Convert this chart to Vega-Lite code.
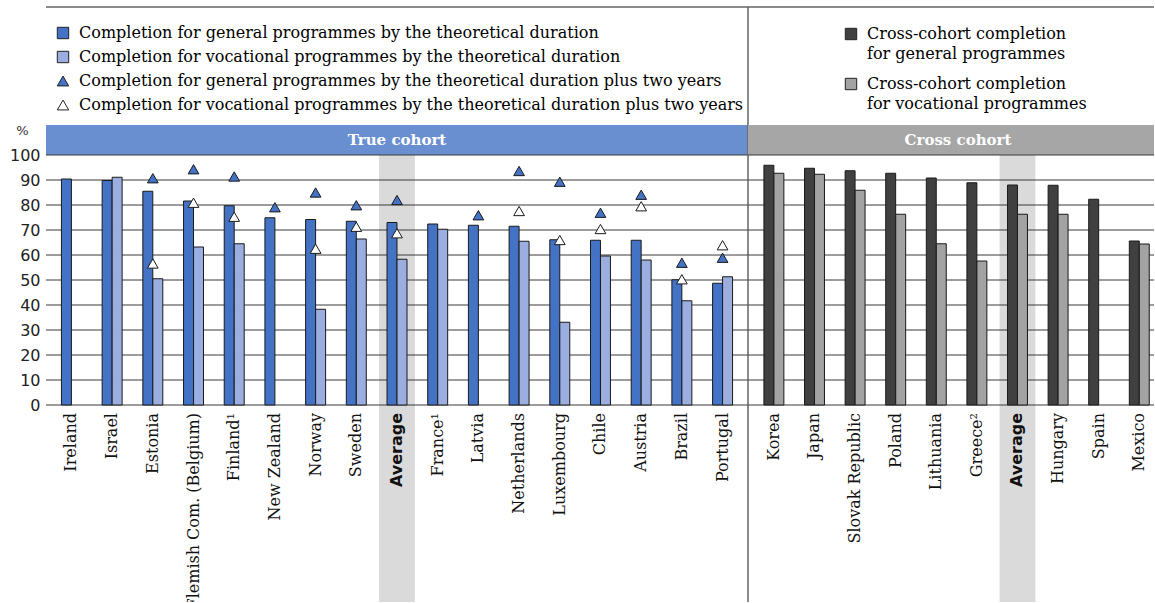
{
  "$schema": "https://vega.github.io/schema/vega-lite/v6.json",
  "padding": {"left": 9, "top": 6, "right": 0, "bottom": 0},
  "autosize": {"type": "pad"},
  "background": "white",
  "config": {
    "view": {"stroke": null},
    "axis": {"grid": false, "domain": false, "ticks": false},
    "style": {"guide-label": {"lineHeight": 20}}
  },
  "spacing": 0,
  "bounds": "flush",
  "resolve": {
    "scale": {"x": "independent", "y": "independent", "color": "independent", "shape": "independent"},
    "legend": {"color": "independent", "shape": "independent"}
  },
  "hconcat": [
    {
      "width": 702,
      "height": 595,
      "data": {"values": [
        {"c": "Ireland", "s": "gen", "v": 90.4},
        {"c": "Israel", "s": "gen", "v": 89.8}, {"c": "Israel", "s": "voc", "v": 91.1},
        {"c": "Estonia", "s": "gen", "v": 85.5}, {"c": "Estonia", "s": "voc", "v": 50.5}, {"c": "Estonia", "s": "gen2", "v": 90.7}, {"c": "Estonia", "s": "voc2", "v": 56.6},
        {"c": "Flemish Com. (Belgium)", "s": "gen", "v": 81.6}, {"c": "Flemish Com. (Belgium)", "s": "voc", "v": 63.2}, {"c": "Flemish Com. (Belgium)", "s": "gen2", "v": 94.3}, {"c": "Flemish Com. (Belgium)", "s": "voc2", "v": 80.9},
        {"c": "Finland¹", "s": "gen", "v": 79.7}, {"c": "Finland¹", "s": "voc", "v": 64.5}, {"c": "Finland¹", "s": "gen2", "v": 91.4}, {"c": "Finland¹", "s": "voc2", "v": 75.3},
        {"c": "New Zealand", "s": "gen", "v": 74.9}, {"c": "New Zealand", "s": "gen2", "v": 79.1},
        {"c": "Norway", "s": "gen", "v": 74.2}, {"c": "Norway", "s": "voc", "v": 38.3}, {"c": "Norway", "s": "gen2", "v": 85.0}, {"c": "Norway", "s": "voc2", "v": 62.5},
        {"c": "Sweden", "s": "gen", "v": 73.5}, {"c": "Sweden", "s": "voc", "v": 66.4}, {"c": "Sweden", "s": "gen2", "v": 79.9}, {"c": "Sweden", "s": "voc2", "v": 71.3},
        {"c": "Average", "s": "gen", "v": 73.0}, {"c": "Average", "s": "voc", "v": 58.3}, {"c": "Average", "s": "gen2", "v": 82.0}, {"c": "Average", "s": "voc2", "v": 68.7},
        {"c": "France¹", "s": "gen", "v": 72.4}, {"c": "France¹", "s": "voc", "v": 70.3},
        {"c": "Latvia", "s": "gen", "v": 71.9}, {"c": "Latvia", "s": "gen2", "v": 75.9},
        {"c": "Netherlands", "s": "gen", "v": 71.5}, {"c": "Netherlands", "s": "voc", "v": 65.5}, {"c": "Netherlands", "s": "gen2", "v": 93.6}, {"c": "Netherlands", "s": "voc2", "v": 77.6},
        {"c": "Luxembourg", "s": "gen", "v": 66.1}, {"c": "Luxembourg", "s": "voc", "v": 33.1}, {"c": "Luxembourg", "s": "gen2", "v": 89.3}, {"c": "Luxembourg", "s": "voc2", "v": 66.0},
        {"c": "Chile", "s": "gen", "v": 65.9}, {"c": "Chile", "s": "voc", "v": 59.6}, {"c": "Chile", "s": "gen2", "v": 76.9}, {"c": "Chile", "s": "voc2", "v": 70.4},
        {"c": "Austria", "s": "gen", "v": 65.9}, {"c": "Austria", "s": "voc", "v": 58.0}, {"c": "Austria", "s": "gen2", "v": 84.1}, {"c": "Austria", "s": "voc2", "v": 79.5},
        {"c": "Brazil", "s": "gen", "v": 50.1}, {"c": "Brazil", "s": "voc", "v": 41.7}, {"c": "Brazil", "s": "gen2", "v": 56.9}, {"c": "Brazil", "s": "voc2", "v": 50.3},
        {"c": "Portugal", "s": "gen", "v": 48.7}, {"c": "Portugal", "s": "voc", "v": 51.3}, {"c": "Portugal", "s": "gen2", "v": 58.9}, {"c": "Portugal", "s": "voc2", "v": 63.9}
      ]},
      "layer": [
        {
          "transform": [{"filter": "datum.c == 'Average' && datum.s == 'gen'"}],
          "mark": {"type": "bar", "color": "#DADADA", "width": {"band": 1.8}},
          "encoding": {
            "x": {"field": "c", "type": "nominal", "axis": null, "scale": {"domain": ["Ireland", "Israel", "Estonia", "Flemish Com. (Belgium)", "Finland¹", "New Zealand", "Norway", "Sweden", "Average", "France¹", "Latvia", "Netherlands", "Luxembourg", "Chile", "Austria", "Brazil", "Portugal"], "paddingInner": 0.51, "paddingOuter": 0.38}},
            "y": {"datum": 100, "type": "quantitative", "scale": {"domain": [-78.8, 159.2], "nice": false, "zero": false},
              "axis": {"values": [0, 10, 20, 30, 40, 50, 60, 70, 80, 90, 100], "grid": false, "domain": false, "ticks": false, "tickSize": 0, "labelPadding": 6, "labelFont": "DejaVu Sans", "labelFontSize": 16, "labelColor": "#222", "title": "%", "titleAngle": 0, "titleX": -24, "titleY": 123, "titleAlign": "center", "titleBaseline": "middle", "titleFont": "DejaVu Sans", "titleFontSize": 13, "titleFontWeight": "normal", "titleColor": "#333"}},
            "y2": {"datum": -78.8}
          }
        },
        {
          "data": {"values": [{"h": "True cohort"}]},
          "mark": {"type": "rect", "color": "#6A8FD0"},
          "encoding": {"y": {"datum": 100, "type": "quantitative"}, "y2": {"datum": 112}}
        },
        {
          "data": {"values": [{"h": "True cohort"}]},
          "mark": {"type": "text", "color": "white", "font": "DejaVu Serif", "fontWeight": "bold", "fontSize": 15, "baseline": "middle", "align": "center"},
          "encoding": {"y": {"datum": 106, "type": "quantitative"}, "text": {"field": "h"}}
        },
        {
          "data": {"values": [{"t": 0}, {"t": 10}, {"t": 20}, {"t": 30}, {"t": 40}, {"t": 50}, {"t": 60}, {"t": 70}, {"t": 80}, {"t": 90}, {"t": 100}]},
          "mark": {"type": "rule", "color": "#3a3a3a", "strokeWidth": 1},
          "encoding": {"y": {"field": "t", "type": "quantitative"}}
        },
        {
          "data": {"values": [{"b": 159.2}]},
          "mark": {"type": "rule", "color": "#666666", "strokeWidth": 1.5},
          "encoding": {"y": {"field": "b", "type": "quantitative"}}
        },
        {
          "transform": [{"filter": "datum.s == 'gen'"}],
          "mark": {"type": "bar", "stroke": "#1a1a1a", "strokeWidth": 1, "width": {"band": 0.5}, "xOffset": -5},
          "encoding": {
            "x": {"field": "c", "type": "nominal", "axis": null},
            "y": {"field": "v", "type": "quantitative"},
            "color": {"field": "s", "type": "nominal",
              "scale": {"domain": ["gen", "voc", "gen2", "voc2"], "range": ["#4472C4", "#9BAEDF", "#4472C4", "#FFFFFF"]},
              "legend": {"orient": "none", "legendX": 9, "legendY": 18, "title": null, "padding": 0, "labelFont": "DejaVu Serif", "labelFontSize": 16, "labelColor": "#000", "labelLimit": 1000, "labelOffset": 8, "rowPadding": 8, "symbolSize": 130, "symbolStrokeColor": "#222", "symbolStrokeWidth": 1, "labelExpr": "datum.label == 'gen' ? 'Completion for general programmes by the theoretical duration' : datum.label == 'voc' ? 'Completion for vocational programmes by the theoretical duration' : datum.label == 'gen2' ? 'Completion for general programmes by the theoretical duration plus two years' : 'Completion for vocational programmes by the theoretical duration plus two years'"}}
          }
        },
        {
          "transform": [{"filter": "datum.s == 'voc'"}],
          "mark": {"type": "bar", "stroke": "#1a1a1a", "strokeWidth": 1, "width": {"band": 0.5}, "xOffset": 5},
          "encoding": {
            "x": {"field": "c", "type": "nominal", "axis": null},
            "y": {"field": "v", "type": "quantitative"},
            "color": {"field": "s", "type": "nominal",
              "legend": {"orient": "none", "legendX": 9, "legendY": 18, "title": null, "padding": 0, "labelFont": "DejaVu Serif", "labelFontSize": 16, "labelColor": "#000", "labelLimit": 1000, "labelOffset": 8, "rowPadding": 8, "symbolSize": 130, "symbolStrokeColor": "#222", "symbolStrokeWidth": 1, "labelExpr": "datum.label == 'gen' ? 'Completion for general programmes by the theoretical duration' : datum.label == 'voc' ? 'Completion for vocational programmes by the theoretical duration' : datum.label == 'gen2' ? 'Completion for general programmes by the theoretical duration plus two years' : 'Completion for vocational programmes by the theoretical duration plus two years'"}}
          }
        },
        {
          "transform": [{"filter": {"field": "s", "oneOf": ["gen2", "voc2"]}}],
          "mark": {"type": "point", "filled": true, "stroke": "#1a1a1a", "strokeWidth": 1, "size": 115, "opacity": 1},
          "encoding": {
            "x": {"field": "c", "type": "nominal", "axis": null},
            "y": {"field": "v", "type": "quantitative"},
            "color": {"field": "s", "type": "nominal",
              "legend": {"orient": "none", "legendX": 9, "legendY": 18, "title": null, "padding": 0, "labelFont": "DejaVu Serif", "labelFontSize": 16, "labelColor": "#000", "labelLimit": 1000, "labelOffset": 8, "rowPadding": 8, "symbolSize": 130, "symbolStrokeColor": "#222", "symbolStrokeWidth": 1, "labelExpr": "datum.label == 'gen' ? 'Completion for general programmes by the theoretical duration' : datum.label == 'voc' ? 'Completion for vocational programmes by the theoretical duration' : datum.label == 'gen2' ? 'Completion for general programmes by the theoretical duration plus two years' : 'Completion for vocational programmes by the theoretical duration plus two years'"}},
            "shape": {"field": "s", "type": "nominal",
              "scale": {"domain": ["gen", "voc", "gen2", "voc2"], "range": ["square", "square", "triangle-up", "triangle-up"]},
              "legend": {"orient": "none", "legendX": 9, "legendY": 18, "title": null, "padding": 0, "labelFont": "DejaVu Serif", "labelFontSize": 16, "labelColor": "#000", "labelLimit": 1000, "labelOffset": 8, "rowPadding": 8, "symbolSize": 130, "symbolStrokeColor": "#222", "symbolStrokeWidth": 1, "labelExpr": "datum.label == 'gen' ? 'Completion for general programmes by the theoretical duration' : datum.label == 'voc' ? 'Completion for vocational programmes by the theoretical duration' : datum.label == 'gen2' ? 'Completion for general programmes by the theoretical duration plus two years' : 'Completion for vocational programmes by the theoretical duration plus two years'"}}
          }
        },
        {
          "transform": [{"filter": "datum.s == 'gen' && datum.c != 'Average'"}],
          "mark": {"type": "text", "angle": 270, "align": "right", "baseline": "middle", "font": "DejaVu Serif", "fontSize": 16, "color": "#111", "clip": true},
          "encoding": {
            "x": {"field": "c", "type": "nominal", "axis": null},
            "y": {"datum": -3.2, "type": "quantitative"},
            "text": {"field": "c"}
          }
        },
        {
          "transform": [{"filter": "datum.s == 'gen' && datum.c == 'Average'"}],
          "mark": {"type": "text", "angle": 270, "align": "right", "baseline": "middle", "font": "DejaVu Sans", "fontWeight": "bold", "fontSize": 16, "color": "#111", "clip": true},
          "encoding": {
            "x": {"field": "c", "type": "nominal", "axis": null},
            "y": {"datum": -3.2, "type": "quantitative"},
            "text": {"field": "c"}
          }
        }
      ]
    },
    {
      "width": 406,
      "height": 595,
      "view": {"stroke": "#666666", "strokeWidth": 1.5, "strokeDash": [406, 1001, 595, 0]},
      "data": {"values": [
        {"c": "Korea", "s": "cg", "v": 95.9}, {"c": "Korea", "s": "cv", "v": 92.7},
        {"c": "Japan", "s": "cg", "v": 94.7}, {"c": "Japan", "s": "cv", "v": 92.3},
        {"c": "Slovak Republic", "s": "cg", "v": 93.7}, {"c": "Slovak Republic", "s": "cv", "v": 85.9},
        {"c": "Poland", "s": "cg", "v": 92.7}, {"c": "Poland", "s": "cv", "v": 76.3},
        {"c": "Lithuania", "s": "cg", "v": 90.8}, {"c": "Lithuania", "s": "cv", "v": 64.5},
        {"c": "Greece²", "s": "cg", "v": 88.9}, {"c": "Greece²", "s": "cv", "v": 57.6},
        {"c": "Average", "s": "cg", "v": 88.0}, {"c": "Average", "s": "cv", "v": 76.3},
        {"c": "Hungary", "s": "cg", "v": 87.9}, {"c": "Hungary", "s": "cv", "v": 76.3},
        {"c": "Spain", "s": "cg", "v": 82.3},
        {"c": "Mexico", "s": "cg", "v": 65.6}, {"c": "Mexico", "s": "cv", "v": 64.4}
      ]},
      "layer": [
        {
          "transform": [{"filter": "datum.c == 'Average' && datum.s == 'cg'"}],
          "mark": {"type": "bar", "color": "#DADADA", "width": {"band": 1.8}},
          "encoding": {
            "x": {"field": "c", "type": "nominal", "axis": null, "scale": {"domain": ["Korea", "Japan", "Slovak Republic", "Poland", "Lithuania", "Greece²", "Average", "Hungary", "Spain", "Mexico"], "paddingInner": 0.51, "paddingOuter": 0.255, "align": 0.77}},
            "y": {"datum": 100, "type": "quantitative", "axis": null, "scale": {"domain": [-78.8, 159.2], "nice": false, "zero": false}},
            "y2": {"datum": -78.8}
          }
        },
        {
          "data": {"values": [{"h": "Cross cohort"}]},
          "mark": {"type": "rect", "color": "#A6A6A6"},
          "encoding": {"y": {"datum": 100, "type": "quantitative", "axis": null}, "y2": {"datum": 112}}
        },
        {
          "data": {"values": [{"h": "Cross cohort"}]},
          "mark": {"type": "text", "color": "white", "font": "DejaVu Serif", "fontWeight": "bold", "fontSize": 15, "baseline": "middle", "align": "center", "dx": 7},
          "encoding": {"y": {"datum": 106, "type": "quantitative", "axis": null}, "text": {"field": "h"}}
        },
        {
          "data": {"values": [{"t": 0}, {"t": 10}, {"t": 20}, {"t": 30}, {"t": 40}, {"t": 50}, {"t": 60}, {"t": 70}, {"t": 80}, {"t": 90}, {"t": 100}]},
          "mark": {"type": "rule", "color": "#3a3a3a", "strokeWidth": 1},
          "encoding": {"y": {"field": "t", "type": "quantitative", "axis": null}}
        },
        {
          "transform": [{"filter": "datum.s == 'cg'"}],
          "mark": {"type": "bar", "stroke": "#1a1a1a", "strokeWidth": 1, "width": {"band": 0.5}, "xOffset": -5},
          "encoding": {
            "x": {"field": "c", "type": "nominal", "axis": null},
            "y": {"field": "v", "type": "quantitative", "axis": null},
            "color": {"field": "s", "type": "nominal",
              "scale": {"domain": ["cg", "cv"], "range": ["#404040", "#A3A3A3"]},
              "legend": {"orient": "none", "legendX": 95, "legendY": 19, "title": null, "padding": 0, "labelFont": "DejaVu Serif", "labelFontSize": 16, "labelColor": "#000", "labelLimit": 1000, "labelOffset": 8, "labelBaseline": "middle", "rowPadding": 14, "symbolType": "square", "symbolSize": 130, "symbolStrokeColor": "#222", "symbolStrokeWidth": 1, "labelExpr": "datum.label == 'cg' ? ['Cross-cohort completion', 'for general programmes'] : ['Cross-cohort completion', 'for vocational programmes']"}}
          }
        },
        {
          "transform": [{"filter": "datum.s == 'cv'"}],
          "mark": {"type": "bar", "stroke": "#1a1a1a", "strokeWidth": 1, "width": {"band": 0.5}, "xOffset": 5},
          "encoding": {
            "x": {"field": "c", "type": "nominal", "axis": null},
            "y": {"field": "v", "type": "quantitative", "axis": null},
            "color": {"field": "s", "type": "nominal",
              "legend": {"orient": "none", "legendX": 95, "legendY": 19, "title": null, "padding": 0, "labelFont": "DejaVu Serif", "labelFontSize": 16, "labelColor": "#000", "labelLimit": 1000, "labelOffset": 8, "labelBaseline": "middle", "rowPadding": 14, "symbolType": "square", "symbolSize": 130, "symbolStrokeColor": "#222", "symbolStrokeWidth": 1, "labelExpr": "datum.label == 'cg' ? ['Cross-cohort completion', 'for general programmes'] : ['Cross-cohort completion', 'for vocational programmes']"}}
          }
        },
        {
          "transform": [{"filter": "datum.s == 'cg' && datum.c != 'Average'"}],
          "mark": {"type": "text", "angle": 270, "align": "right", "baseline": "middle", "font": "DejaVu Serif", "fontSize": 16, "color": "#111", "clip": true},
          "encoding": {
            "x": {"field": "c", "type": "nominal", "axis": null},
            "y": {"datum": -3.2, "type": "quantitative", "axis": null},
            "text": {"field": "c"}
          }
        },
        {
          "transform": [{"filter": "datum.s == 'cg' && datum.c == 'Average'"}],
          "mark": {"type": "text", "angle": 270, "align": "right", "baseline": "middle", "font": "DejaVu Sans", "fontWeight": "bold", "fontSize": 16, "color": "#111", "clip": true},
          "encoding": {
            "x": {"field": "c", "type": "nominal", "axis": null},
            "y": {"datum": -3.2, "type": "quantitative", "axis": null},
            "text": {"field": "c"}
          }
        }
      ]
    }
  ]
}
